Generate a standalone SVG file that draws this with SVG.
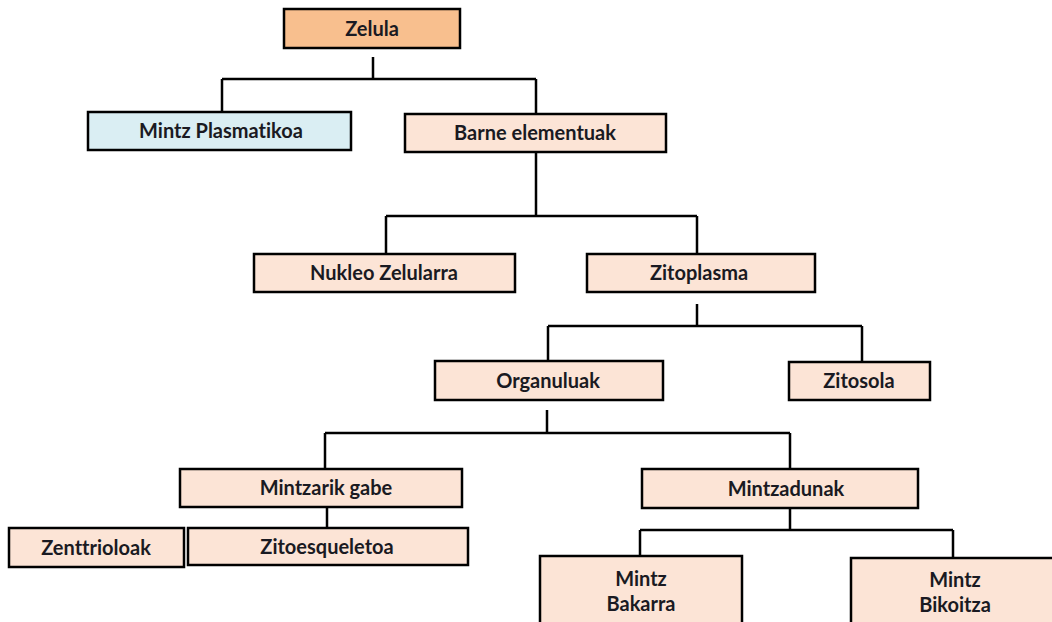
<svg xmlns="http://www.w3.org/2000/svg" width="1052" height="622" viewBox="0 0 1052 622">
<style>
.n{fill:#FCE4D6;stroke:#000;stroke-width:2.5}
.o{fill:#F8BF8E;stroke:#000;stroke-width:2.5}
.b{fill:#DAEEF3;stroke:#000;stroke-width:2.5}
.t{font-family:Lato,"Liberation Sans",Arial,sans-serif;font-weight:bold;font-size:20px;fill:#1a1a22;text-anchor:middle;font-variant-ligatures:none}
.c{fill:none;stroke:#000;stroke-width:2.5}
</style>
<rect width="1052" height="622" fill="#fff"/>
<g id="connectors">
<path class="c" d="M373 57V79M222 79H536M222 79V112M536 79V114"/>
<path class="c" d="M536 152V216M386 216H697M386 216V254M697 216V254"/>
<path class="c" d="M697 304V326M548 326H862M548 326V360M862 326V362"/>
<path class="c" d="M547 410V433M325 433H790M325 433V469M790 433V469"/>
<path class="c" d="M327 507V528"/>
<path class="c" d="M790 508V530M640 530H953M640 530V556M953 530V558"/>
</g>
<g id="zelula"><rect class="o" x="284" y="9" width="176" height="39"/><text class="t" x="372" y="36">Zelula</text></g>
<g id="mintz-plasmatikoa"><rect class="b" x="88" y="112" width="263" height="38"/><text class="t" x="221" y="138">Mintz Plasmatikoa</text></g>
<g id="barne-elementuak"><rect class="n" x="405" y="114" width="261" height="38"/><text class="t" x="535" y="140">Barne elementuak</text></g>
<g id="nukleo-zelularra"><rect class="n" x="254" y="254" width="261" height="38"/><text class="t" x="384" y="280">Nukleo Zelularra</text></g>
<g id="zitoplasma"><rect class="n" x="587" y="254" width="228" height="38"/><text class="t" x="699" y="280">Zitoplasma</text></g>
<g id="organuluak"><rect class="n" x="435" y="361" width="228" height="39"/><text class="t" x="548" y="388">Organuluak</text></g>
<g id="zitosola"><rect class="n" x="789" y="362" width="141" height="38"/><text class="t" x="859" y="388">Zitosola</text></g>
<g id="mintzarik-gabe"><rect class="n" x="180" y="469" width="282" height="38"/><text class="t" x="326" y="495">Mintzarik gabe</text></g>
<g id="mintzadunak"><rect class="n" x="642" y="469" width="276" height="39"/><text class="t" x="786" y="496">Mintzadunak</text></g>
<g id="zenttrioloak"><rect class="n" x="9" y="528" width="175" height="39"/><text class="t" x="96" y="555">Zenttrioloak</text></g>
<g id="zitoesqueletoa"><rect class="n" x="188" y="528" width="280" height="37"/><text class="t" x="327" y="554">Zitoesqueletoa</text></g>
<g id="mintz-bakarra"><rect class="n" x="540" y="556" width="202" height="70"/><text class="t" x="641" y="586">Mintz</text><text class="t" x="641" y="611">Bakarra</text></g>
<g id="mintz-bikoitza"><rect class="n" x="851" y="558" width="205" height="70"/><text class="t" x="955" y="587">Mintz</text><text class="t" x="955" y="612">Bikoitza</text></g>
</svg>
